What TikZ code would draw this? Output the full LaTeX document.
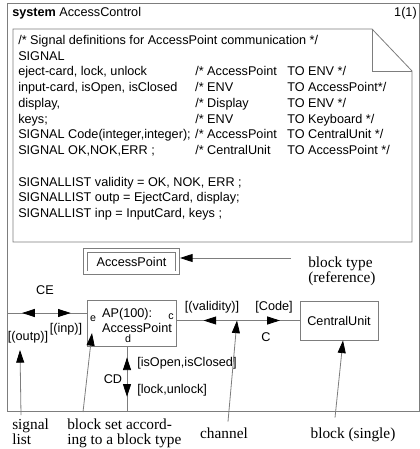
\documentclass[tikz,border=0pt]{standalone}
\usepackage{fontspec}
\setmainfont{Liberation Sans}
\newfontfamily\serifnote{Liberation Serif}
\usepackage{tikz}
\usetikzlibrary{arrows.meta, decorations.markings, calc}
\definecolor{linegray}{RGB}{125, 125, 125}
\newcommand{\sdlfont}{\fontsize{9.5}{11.8}\selectfont}
\newcommand{\lblfont}{\serifnote\fontsize{11.5}{11.3}\selectfont}
\newcommand{\sigrow}[3]{\makebox[132.75pt][l]{#1}\makebox[69pt][l]{#2}#3}

\begin{document}
\begin{tikzpicture}[
  x=0.75pt, y=-0.75pt,
  every node/.style={font=\sdlfont, inner sep=0pt},
  sdlline/.style={draw=linegray, line width=0.6pt},
  blk/.style={sdlline, rectangle, align=center},
  refblk/.style={blk, double=white, double distance=2.2pt, outer sep=1.7pt},
  pointer/.style={linegray, line width=0.6pt,
                  -{Triangle[length=9.5pt, width=6pt, color=black]}},
  channel/.style 2 args={linegray, line width=0.6pt, postaction={decorate},
    decoration={markings,
      mark=at position #1 with {\arrowreversed{Triangle[length=9.5pt, width=6pt, color=black]}},
      mark=at position #2 with {\arrow{Triangle[length=9.5pt, width=6pt, color=black]}}}},
  lbl/.style={font=\lblfont, align=left},
  port/.style={font=\fontsize{8}{9}\selectfont}
]
  \useasboundingbox (0,0) rectangle (420,449);

  % system frame and heading
  \draw[sdlline] (7,3) rectangle (419,411);
  \node[anchor=base west] (title) at (12,17) {\textbf{system} AccessControl};
  \node[anchor=base east] (page)  at (417,17) {1(1)};

  % text symbol with folded corner
  \draw[sdlline] (13,29) -- (372,29) -- (412,71) -- (412,242) -- (13,242) -- cycle;
  \draw[sdlline] (372,29) |- (412,71);
  \node[anchor=north west, align=left] (sigdef) at (18,35) {%
    /* Signal definitions for AccessPoint communication */\\
    SIGNAL\\
    \sigrow{eject-card, lock, unlock}{/* AccessPoint}{TO ENV */}\\
    \sigrow{input-card, isOpen, isClosed}{/* ENV}{TO AccessPoint*/}\\
    \sigrow{display,}{/* Display}{TO ENV */}\\
    \sigrow{keys;}{/* ENV}{TO Keyboard */}\\
    \sigrow{SIGNAL Code(integer,integer);}{/* AccessPoint}{TO CentralUnit */}\\
    \sigrow{SIGNAL OK,NOK,ERR ;}{/* CentralUnit}{TO AccessPoint */}\\
    \mbox{}\\
    SIGNALLIST validity = OK, NOK, ERR ;\\
    SIGNALLIST outp = EjectCard, display;\\
    SIGNALLIST inp = InputCard, keys ;};

  % blocks
  \node[refblk, minimum width=69.3pt, minimum height=16.9pt] (ref) at (131.5,261.5) {AccessPoint};
  \node[blk, minimum width=66.75pt, minimum height=34.5pt] (ap) at (131.5,323) {};
  \node[align=left] (aptxt) at (137,320.5) {AP(100):\\AccessPoint};
  \node[blk, minimum width=58.5pt, minimum height=29.25pt] (cu) at (339,320.5) {CentralUnit};

  \node[port] (pe) at (93,319) {e};
  \node[port] (pc) at (171,317) {c};
  \node[port] (pd) at (128,339) {d};

  % channels
  \coordinate (ceW) at (7,313);
  \coordinate (cdS) at (127,411);
  \draw[channel={0.19}{0.8}] (ceW) -- (ceW -| ap.west);
  \draw[channel={0.22}{0.84}] (cu.west -| ap.east) -- (cu.west);
  \draw[channel={0.17}{0.78}] (cdS |- ap.south) -- (cdS);

  \node (ce)    at (45,290)  {CE};
  \node (outp)  at (28,337)  {[(outp)]};
  \node (inp)   at (66,329)  {[(inp)]};
  \node (valid) at (212,307) {[(validity)]};
  \node (code)  at (274,307) {[Code]};
  \node (c)     at (266,337) {C};
  \node (cd)    at (113,379) {CD};
  \node[anchor=west] (opn) at (137,363) {[isOpen,isClosed]};
  \node[anchor=west] (lck) at (137,390) {[lock,unlock]};

  % annotations
  \node[lbl, anchor=north west] (ltype) at (308,256.5) {block type\\(reference)};
  \node[lbl, anchor=north west] (lsig)  at (12,419) {signal\\list};
  \node[lbl, anchor=north west] (lset)  at (67,419) {block set accord-\\ing to a block type};
  \node[lbl, anchor=base] (lchan) at (224,438) {channel};
  \node[lbl, anchor=base] (lblk)  at (353,438) {block (single)};

  \coordinate (reftail) at (291,258);
  \coordinate (sigtip)  at (20,350);
  \coordinate (settip)  at (92,333);
  \coordinate (chantip) at (237,320.5);
  \coordinate (blktip)  at ($(cu.south)+(4,0)$);

  \draw[pointer] (reftail) -- (reftail -| ref.east);
  \draw[pointer] ($(lsig.north west)+(9,-4)$) -- (sigtip);
  \draw[pointer] ($(lset.north west)+(16,-7)$) -- (settip);
  \draw[pointer] ($(lchan.north)+(4,-5.5)$) -- (chantip);
  \draw[pointer] ($(lblk.north)+(-18,-9.4)$) -- (blktip);
\end{tikzpicture}
\end{document}
